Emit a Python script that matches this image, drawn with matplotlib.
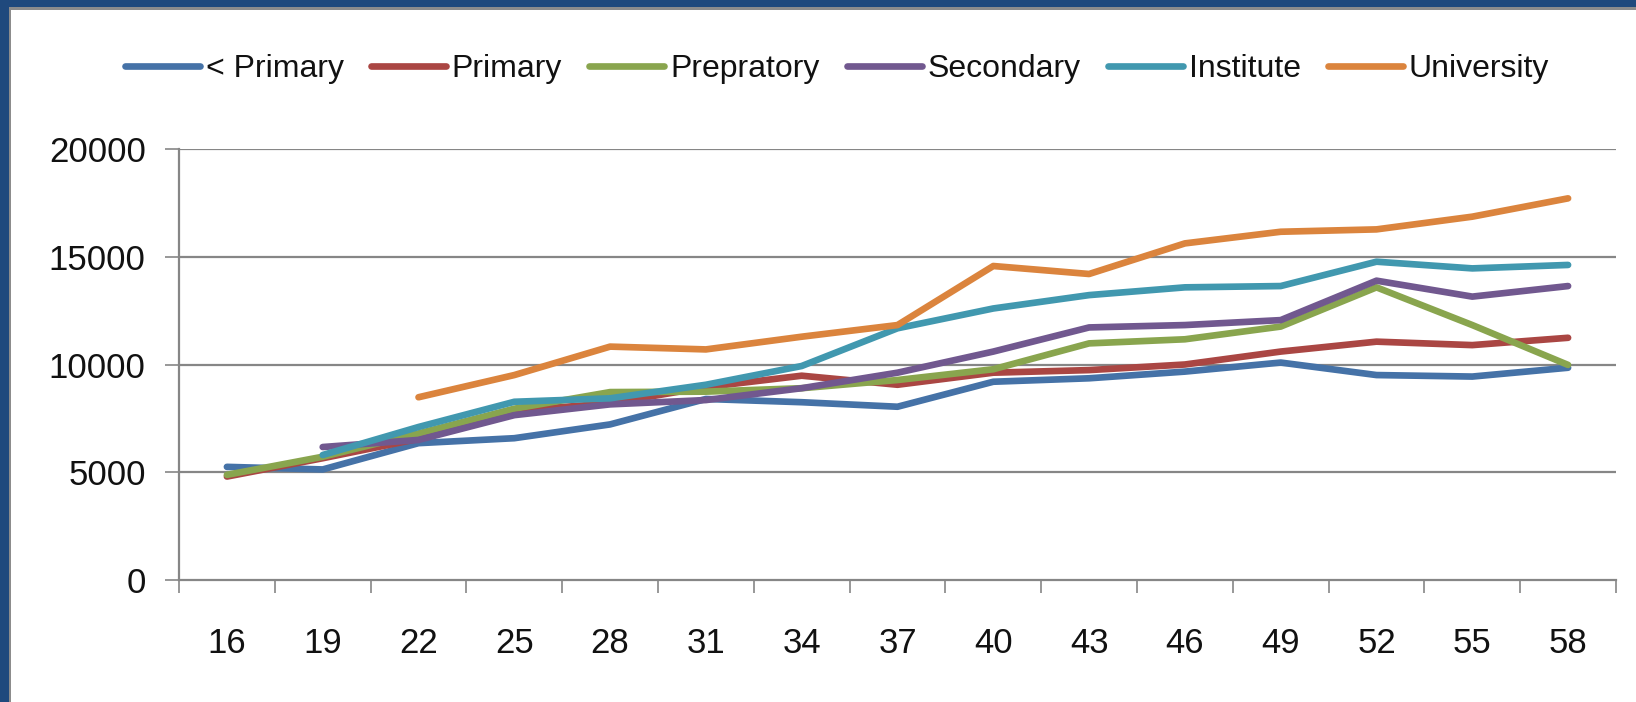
import numpy as np
import matplotlib
matplotlib.use("Agg")
import matplotlib.pyplot as plt
from matplotlib.patches import Rectangle
from matplotlib.lines import Line2D
from matplotlib.ticker import FixedLocator, NullFormatter

# Monthly income by age and education level
ages = [16, 19, 22, 25, 28, 31, 34, 37, 40, 43, 46, 49, 52, 55, 58]
nan = np.nan
below_primary = [5250, 5130, 6350, 6580, 7220, 8400, 8250, 8040, 9200, 9360, 9670, 10090, 9510, 9440, 9850]
primary = [4800, 5650, 6550, 7850, 8200, 8950, 9480, 9060, 9620, 9740, 10000, 10600, 11060, 10900, 11240]
prepratory = [4880, 5720, 6800, 7950, 8720, 8740, 8900, 9280, 9780, 10980, 11170, 11760, 13580, 11830, 9980]
secondary = [nan, 6170, 6500, 7650, 8150, 8350, 8900, 9620, 10600, 11720, 11830, 12060, 13890, 13150, 13640]
institute = [nan, 5800, 7100, 8270, 8430, 9060, 9930, 11680, 12600, 13220, 13580, 13640, 14770, 14460, 14620]
university = [nan, nan, 8480, 9510, 10830, 10700, 11290, 11830, 14570, 14200, 15620, 16160, 16270, 16860, 17710]

series_names = ["< Primary", "Primary", "Prepratory", "Secondary", "Institute", "University"]
series_values = [below_primary, primary, prepratory, secondary, institute, university]
series_colors = ["#4572A7", "#AA4643", "#89A54E", "#71588F", "#4198AF", "#DB843D"]

y_ticks = [0, 5000, 10000, 15000, 20000]

W, H, DPI = 1636, 702, 100
plt.rcParams["font.family"] = ["Liberation Sans", "DejaVu Sans"]
fig = plt.figure(figsize=(W / DPI, H / DPI), dpi=DPI)
fig.patch.set_facecolor("white")

# slide frame: dark blue band on top and left with a thin grey inner edge
frame_blue = "#1F497D"
fig.add_artist(Rectangle((0, 0), 8.5 / W, 1, transform=fig.transFigure,
                         facecolor=frame_blue, edgecolor="none", zorder=0))
fig.add_artist(Rectangle((0, 1 - 7.5 / H), 1, 7.5 / H, transform=fig.transFigure,
                         facecolor=frame_blue, edgecolor="none", zorder=0))
fig.add_artist(Rectangle((8.5 / W, 0), 2.5 / W, 1 - 7.5 / H, transform=fig.transFigure,
                         facecolor="#8C8C8C", edgecolor="none", zorder=0))
fig.add_artist(Rectangle((8.5 / W, 1 - 10 / H), 1, 2.5 / H, transform=fig.transFigure,
                         facecolor="#8C8C8C", edgecolor="none", zorder=0))

left, right, top, bottom = 179, 1616, 149, 580
ax = fig.add_axes([left / W, 1 - bottom / H, (right - left) / W, (bottom - top) / H])

LW = 4.8
x = np.arange(len(ages))
for name, vals, col in zip(series_names, series_values, series_colors):
    ax.plot(x, vals, color=col, lw=LW, solid_capstyle="round",
            solid_joinstyle="round", label=name, zorder=3)

grid_col = "#868686"
ax.set_xlim(-0.5, len(ages) - 0.5)
ax.set_ylim(0, 20000)
ax.set_yticks(y_ticks)
ax.set_yticklabels([str(v) for v in y_ticks])
for v in y_ticks[1:]:
    ax.axhline(v, color=grid_col, lw=1.6, zorder=1)

ax.set_xticks(x)
ax.set_xticklabels([str(a) for a in ages])
ax.xaxis.set_minor_locator(FixedLocator(np.arange(-0.5, len(ages), 1.0)))
ax.xaxis.set_minor_formatter(NullFormatter())

for s in ["top", "right"]:
    ax.spines[s].set_visible(False)
for s in ["left", "bottom"]:
    ax.spines[s].set_color(grid_col)
    ax.spines[s].set_linewidth(1.6)
    ax.spines[s].set_zorder(2)

ax.tick_params(axis="y", which="major", direction="out", length=10, width=1.2,
               color=grid_col, labelsize=25, pad=14, labelcolor="#111111")
ax.tick_params(axis="x", which="major", length=0, labelsize=25, pad=34,
               labelcolor="#111111")
ax.tick_params(axis="x", which="minor", direction="out", length=9, width=1.2,
               color=grid_col)

# Legend row laid out by hand so that every label shares one baseline
leg_fs = 23
handle_len, handle_gap, entry_gap = 75, 6, 27
leg_center_x, leg_center_y = 837, 65.5
cap_h = 0.716 * leg_fs * DPI / 72
baseline_y = leg_center_y + cap_h / 2

renderer = fig.canvas.get_renderer()
texts = []
for name in series_names:
    t = fig.text(0, 0, name, fontsize=leg_fs, color="#111111",
                 ha="left", va="baseline", transform=None)
    texts.append(t)
widths = [t.get_window_extent(renderer).width for t in texts]
total = sum(handle_len + handle_gap + w for w in widths) + entry_gap * (len(widths) - 1)

cur = leg_center_x - total / 2
y_line = H - leg_center_y
for t, w, col in zip(texts, widths, series_colors):
    fig.add_artist(Line2D([cur / W, (cur + handle_len) / W], [y_line / H, y_line / H],
                          transform=fig.transFigure, color=col, lw=LW,
                          solid_capstyle="round"))
    t.set_transform(fig.transFigure)
    t.set_position(((cur + handle_len + handle_gap) / W, (H - baseline_y) / H))
    cur += handle_len + handle_gap + w + entry_gap

fig.savefig("out.png", dpi=DPI, facecolor="white")
